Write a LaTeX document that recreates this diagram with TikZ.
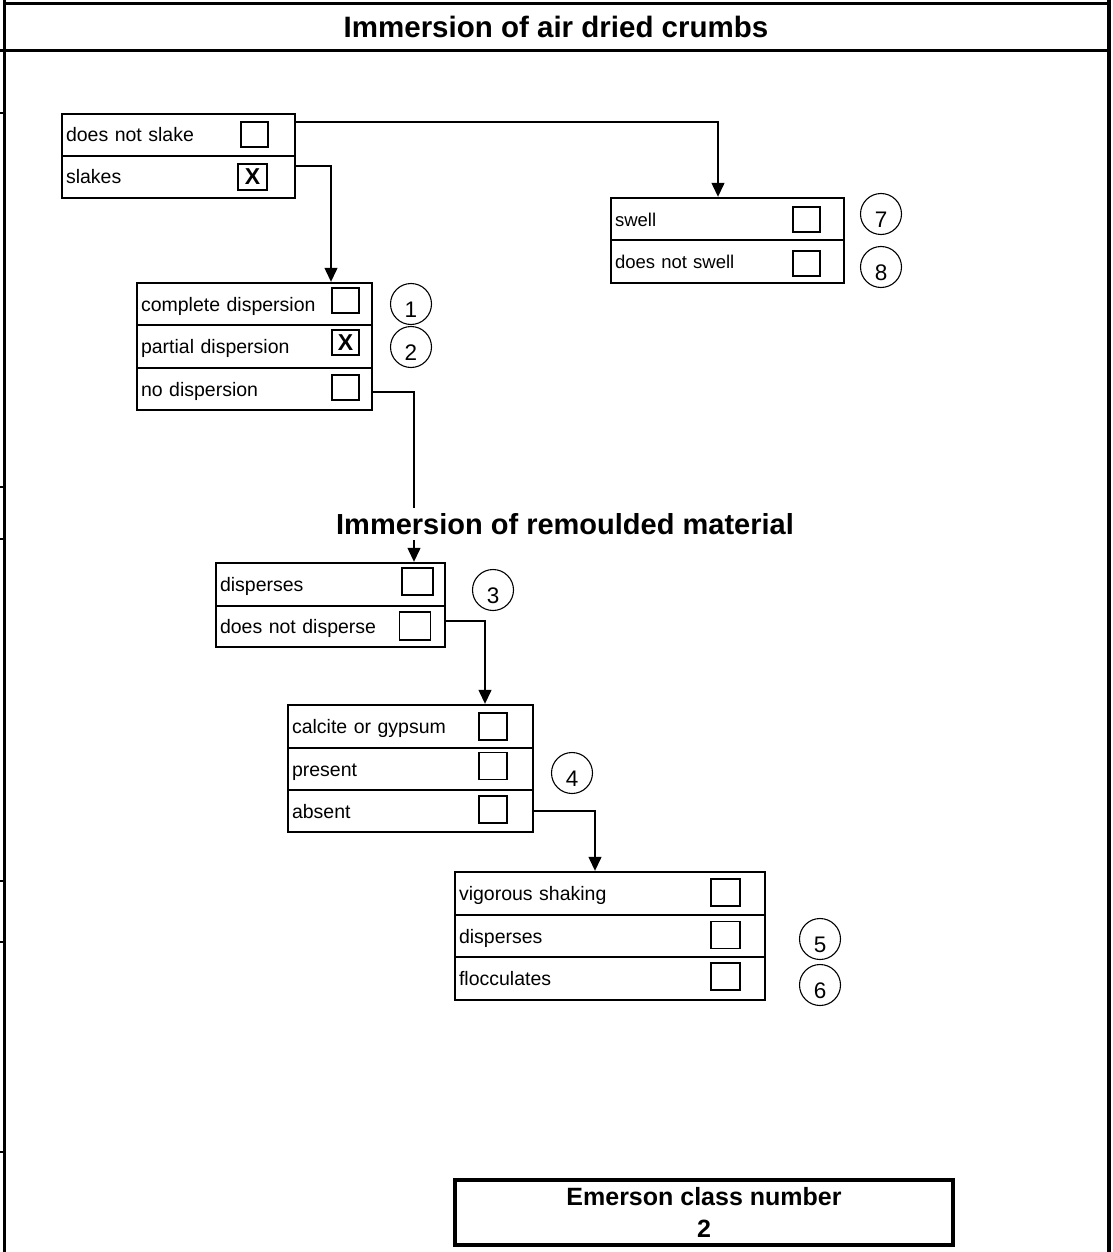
\documentclass[tikz,border=0pt]{standalone}
\usepackage{fontspec}
\setmainfont{Liberation Sans}
\usetikzlibrary{arrows.meta}
\newcommand\rowfnt{\fontsize{19.5}{22}\selectfont}
\newcommand\numfnt{\fontsize{22.5}{24}\selectfont}
\begin{document}
\begin{tikzpicture}[x=1pt,y=-1pt,
  rowbox/.style={draw, line width=2.4pt, inner xsep=4pt, inner ysep=0pt,
    minimum height=42pt, align=left, text height=14pt, text depth=0pt, font=\rowfnt},
  cbox/.style={draw, line width=1.1pt, inner sep=0pt, minimum width=27pt, minimum height=25pt},
  xbox/.style={cbox, font=\bfseries\fontsize{23}{24}\selectfont},
  num/.style={draw, circle, line width=1.1pt, minimum size=41pt, inner sep=0pt,
    text height=26pt, text depth=0pt, font=\numfnt},
  conn/.style={line width=1.3pt},
  arr/.style={conn, -{Triangle[length=14pt,width=13pt]}},
  frame/.style={line width=3pt},
  tick/.style={line width=2.5pt}]
\useasboundingbox (0,0) rectangle (1112,1252);
% frame
\draw[frame] (4.5,0) -- (4.5,1252);
\draw[line width=4pt] (1108.5,0) -- (1108.5,1252);
\draw[frame] (4.5,3.5) -- (1108.5,3.5);
\draw[frame] (0,51) -- (1108.5,51);
\foreach \yy in {113,487,539,881,942,1152} \draw[tick] (0,\yy) -- (4.5,\yy);
\node[font=\bfseries\fontsize{29.5}{32}\selectfont] (h1) at (556,27) {Immersion of air dried crumbs};
% box 1
\node[rowbox, text width=225pt] (r1a) at (178.5,135) {does not slake};
\node[rowbox, text width=225pt] (r1b) at (178.5,177) {slakes};
\node[cbox] (cb1a) at (254.5,134.5) {};
\node[xbox, minimum width=29pt, minimum height=26pt] (cb1b) at (252.5,177) {X};
% swell box
\node[rowbox, text width=225pt, font=\fontsize{18.5}{22}\selectfont] (swa) at (727.5,219) {swell};
\node[rowbox, text width=225pt, minimum height=43pt, font=\fontsize{18.5}{22}\selectfont] (swb) at (727.5,261.5) {does not swell};
\node[cbox] (cbsa) at (806.5,219.5) {};
\node[cbox] (cbsb) at (806.5,263.5) {};
\node[num] (c7) at (881,214) {7};
\node[num] (c8) at (881,267) {8};
% box 2
\node[rowbox, text width=227pt] (r2a) at (254.5,304) {complete dispersion};
\node[rowbox, text width=227pt, minimum height=43pt] (r2b) at (254.5,346.5) {partial dispersion};
\node[rowbox, text width=227pt] (r2c) at (254.5,389) {no dispersion};
\node[cbox] (cb2a) at (345.5,300.5) {};
\node[xbox] (cb2b) at (345.5,342.5) {X};
\node[cbox] (cb2c) at (345.5,387.5) {};
\node[num] (c1) at (411,304) {1};
\node[num] (c2) at (411,347) {2};
% box 3
\node[rowbox, text width=221pt, minimum height=43pt] (r3a) at (330.5,584.5) {disperses};
\node[rowbox, text width=221pt, minimum height=41pt] (r3b) at (330.5,626.5) {does not disperse};
\node[cbox, minimum width=31pt, minimum height=27pt] (cb3a) at (417.5,581.5) {};
\node[cbox, minimum width=31pt, minimum height=28pt] (cb3b) at (415,626) {};
\node[num] (c3) at (493,590) {3};
% box 4
\node[rowbox, text width=237pt, minimum height=43pt] (r4a) at (410.5,726.5) {calcite or gypsum};
\node[rowbox, text width=237pt] (r4b) at (410.5,769) {present};
\node[rowbox, text width=237pt] (r4c) at (410.5,811) {absent};
\node[cbox, minimum width=28pt, minimum height=27pt] (cb4a) at (493,726.5) {};
\node[cbox, minimum width=28pt, minimum height=27pt] (cb4b) at (493,766) {};
\node[cbox, minimum width=28pt, minimum height=27pt] (cb4c) at (493,809.5) {};
\node[num] (c4) at (572,773) {4};
% box 5
\node[rowbox, text width=302pt, minimum height=43pt] (r5a) at (610,893.5) {vigorous shaking};
\node[rowbox, text width=302pt] (r5b) at (610,936) {disperses};
\node[rowbox, text width=302pt, minimum height=43pt] (r5c) at (610,978.5) {flocculates};
\node[cbox, minimum width=29pt, minimum height=27pt] (cb5a) at (725.5,892.5) {};
\node[cbox, minimum width=29pt, minimum height=27pt] (cb5b) at (725.5,935) {};
\node[cbox, minimum width=29pt, minimum height=27pt] (cb5c) at (725.5,976.5) {};
\node[num] (c5) at (820,939) {5};
\node[num] (c6) at (820,985) {6};
% connectors
\draw[arr] ([yshift=13pt]r1a.east) -| ([xshift=-9.5pt]swa.north);
\draw[arr] ([yshift=11pt]r1b.east) -| ([xshift=76.5pt]r2a.north);
\draw[arr] ([yshift=-3pt]r2c.east) -| ([xshift=83.5pt]r3a.north);
\draw[arr] ([yshift=5.5pt]r3b.east) -| ([xshift=74.5pt]r4a.north);
\draw[arr] (r4c.east) -| ([xshift=-15pt]r5a.north);
\node[fill=white, inner sep=5pt, font=\bfseries\fontsize{29}{32}\selectfont] (h2) at (565,524) {Immersion of remoulded material};
% result
\node[draw, line width=4pt, minimum width=498pt, minimum height=65pt, align=center,
  font=\bfseries\fontsize{25}{32}\selectfont] (em) at (704,1212.5) {Emerson class number\\2};
\end{tikzpicture}
\end{document}
